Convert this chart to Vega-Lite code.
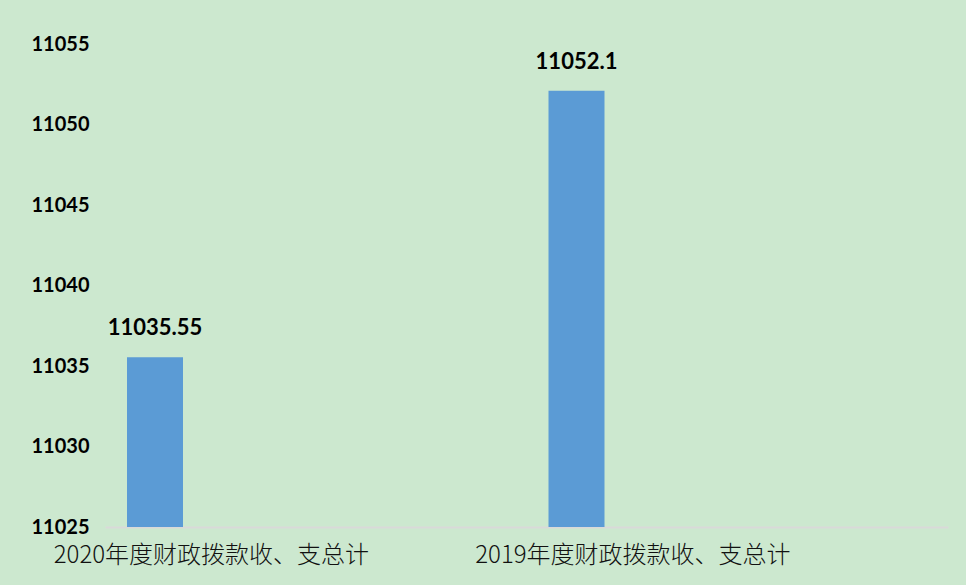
{
  "$schema": "https://vega.github.io/schema/vega-lite/v6.json",
  "autosize": {"type": "none"},
  "width": 843,
  "height": 483,
  "padding": {"left": 105, "top": 44, "right": 18, "bottom": 58},
  "background": "#cce8cf",
  "data": {
    "values": [
      {"category": "2020年度财政拨款收、支总计", "value": 11035.55},
      {"category": "2019年度财政拨款收、支总计", "value": 11052.1}
    ]
  },
  "encoding": {
    "x": {
      "field": "category",
      "type": "nominal",
      "sort": null,
      "scale": {"paddingInner": 0, "paddingOuter": 0},
      "axis": {
        "title": null,
        "labelAngle": 0,
        "labelAlign": "left",
        "labelBaseline": "top",
        "labelOffset": -262,
        "labelPadding": 16,
        "labelFont": "Noto Sans CJK SC",
        "labelFontSize": 24,
        "labelFontWeight": 300,
        "labelColor": "#111111",
        "labelLimit": 500,
        "ticks": false,
        "domainColor": "#d9d9d9",
        "domainWidth": 2,
        "grid": false
      }
    },
    "y": {
      "field": "value",
      "type": "quantitative",
      "scale": {"domain": [11025, 11055], "zero": false, "nice": false},
      "axis": {
        "title": null,
        "values": [11025, 11030, 11035, 11040, 11045, 11050, 11055],
        "format": "d",
        "domain": false,
        "ticks": false,
        "grid": false,
        "labelPadding": 16,
        "labelFont": "Lato",
        "labelFontWeight": "bold",
        "labelFontSize": 20,
        "labelColor": "#000000"
      }
    }
  },
  "layer": [
    {
      "mark": {"type": "bar", "color": "#5b9bd5", "width": 56, "xOffset": -160.75},
      "encoding": {"y2": {"datum": 11025}}
    },
    {
      "mark": {
        "type": "text",
        "baseline": "alphabetic",
        "dy": -22,
        "xOffset": -160.75,
        "font": "Lato",
        "fontWeight": "bold",
        "fontSize": 22,
        "color": "#000000"
      },
      "encoding": {"text": {"field": "value", "type": "nominal"}}
    }
  ],
  "config": {"view": {"stroke": null}}
}
